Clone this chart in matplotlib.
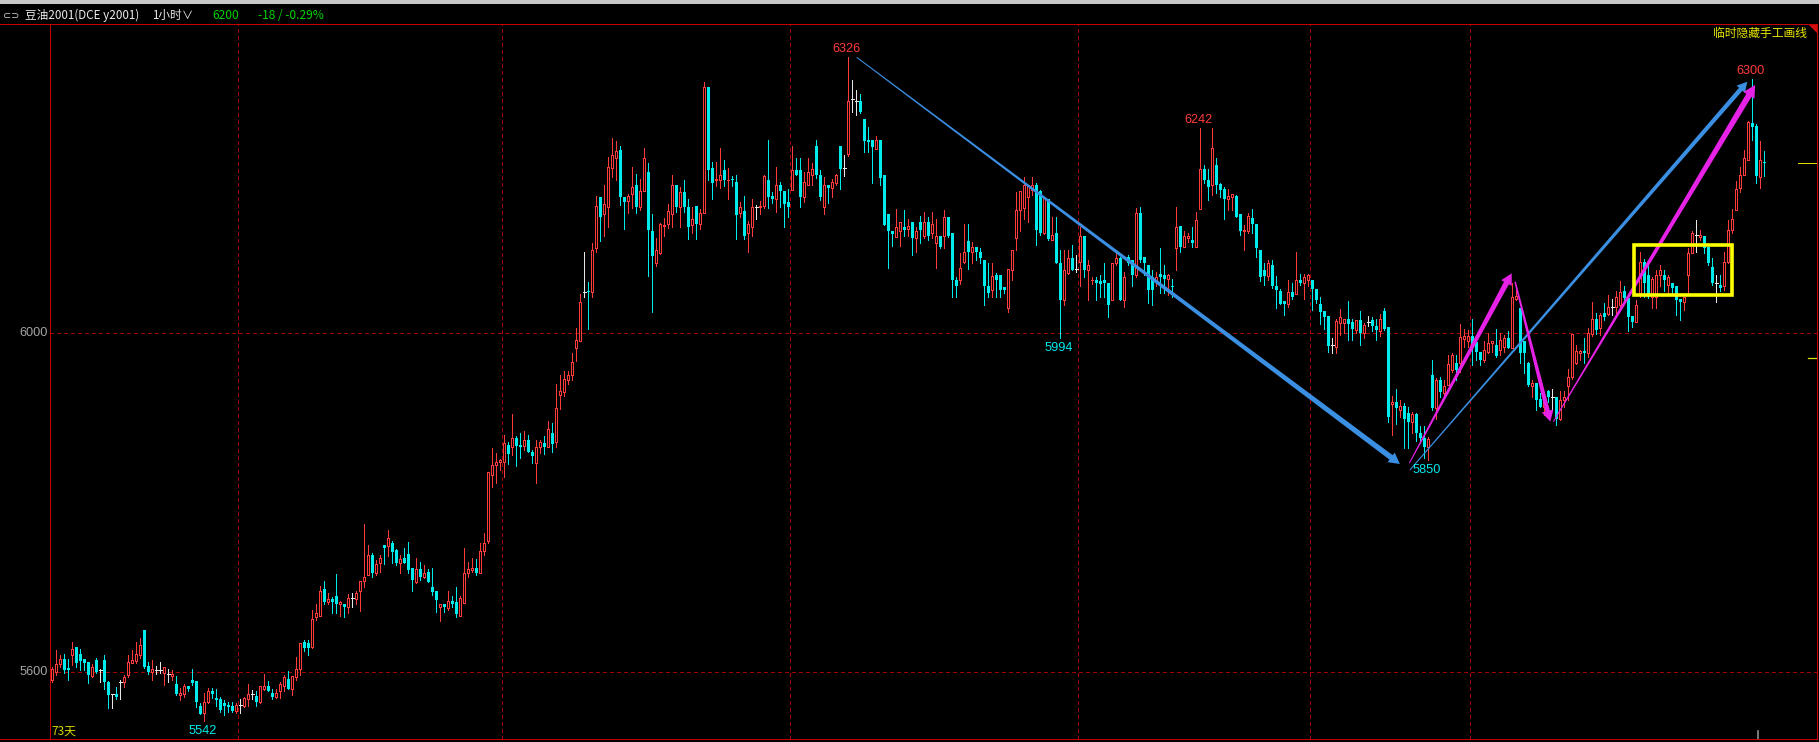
import numpy as np
import matplotlib
matplotlib.use("Agg")
import matplotlib.pyplot as plt
from matplotlib.collections import LineCollection, PolyCollection
from matplotlib.patches import Polygon, Rectangle
from matplotlib.lines import Line2D

# ---------------- data (1-hour candles, DCE y2001) ----------------
opens = [
5591,5600,5609,5615,5605,5620,5630,5621,5615,5612,
5595,5614,5602,5614,5588,5574,5574,5588,5588,5597,
5611,5613,5620,5650,5607,5600,5602,5602,5599,5598,
5595,5586,5573,5574,5584,5590,5589,5560,5551,5565,
5578,5569,5568,5563,5561,5560,5554,5561,5560,5568,
5574,5572,5565,5580,5583,5575,5571,5577,5583,5592,
5580,5594,5603,5635,5634,5629,5665,5666,5698,5683,
5686,5690,5680,5680,5677,5687,5686,5695,5707,5715,
5738,5717,5729,5750,5749,5752,5744,5729,5735,5739,
5723,5706,5721,5712,5718,5700,5695,5677,5680,5676,
5684,5682,5666,5681,5717,5720,5723,5717,5743,5754,
5832,5844,5848,5848,5868,5865,5876,5868,5867,5874,
5860,5847,5865,5870,5865,5882,5871,5927,5930,5945,
5950,5982,5991,6048,6050,6048,6100,6160,6140,6149,
6195,6207,6216,6160,6156,6164,6175,6149,6167,6190,
6120,6083,6094,6126,6129,6140,6175,6149,6166,6149,
6128,6150,6129,6141,6290,6195,6180,6180,6192,6180,
6181,6178,6141,6144,6118,6125,6149,6149,6150,6180,
6162,6158,6175,6167,6154,6169,6192,6192,6160,6175,
6186,6221,6187,6149,6175,6171,6177,6221,6195,6211,
6276,6274,6274,6253,6228,6228,6217,6228,6186,6140,
6120,6113,6120,6125,6123,6131,6112,6131,6114,6131,
6118,6106,6114,6114,6137,6118,6062,6062,6084,6108,
6095,6102,6096,6086,6055,6051,6068,6068,6054,6029,
6074,6112,6145,6147,6161,6169,6175,6167,6118,6158,
6110,6118,6082,6039,6071,6088,6075,6084,6114,6074,
6062,6063,6061,6063,6059,6039,6082,6088,6039,6090,
6086,6068,6141,6090,6080,6066,6061,6070,6068,6064,
6056,6100,6126,6102,6112,6110,6102,6146,6194,6181,
6175,6198,6176,6170,6158,6161,6162,6140,6120,6120,
6136,6129,6098,6074,6067,6080,6055,6050,6038,6034,
6048,6046,6063,6059,6063,6063,6052,6034,6026,6020,
5986,5984,6012,6012,6016,6013,6004,6015,6000,6013,
6015,6008,6002,6026,6007,5916,5919,5909,5914,5905,
5895,5904,5882,5876,5866,5950,5911,5945,5929,5939,
5956,5965,5965,5993,5991,5997,5989,5978,5968,5978,
5988,5986,5980,5984,5994,5982,6040,6029,5991,5965,
5937,5941,5922,5913,5931,5925,5925,5899,5921,5937,
5948,5964,5976,5979,5976,5999,6017,6006,6023,6022,
6031,6031,6033,6049,6041,6020,6013,6047,6084,6068,
6043,6043,6068,6068,6057,6059,6055,6040,6037,6068,
6094,6116,6113,6114,6102,6078,6059,6057,6055,6084,
6121,6145,6171,6187,6204,6248,6244,6184,6202]

highs = [
5606,5626,5620,5621,5615,5635,5630,5627,5615,5612,
5609,5617,5603,5620,5589,5574,5582,5591,5596,5620,
5626,5635,5640,5650,5612,5614,5607,5612,5606,5603,
5602,5595,5581,5586,5584,5604,5589,5563,5575,5581,
5581,5580,5571,5567,5565,5565,5563,5568,5571,5586,
5579,5577,5583,5598,5589,5580,5580,5588,5596,5601,
5595,5618,5634,5638,5638,5673,5680,5701,5707,5693,
5688,5716,5684,5680,5692,5693,5696,5707,5775,5750,
5740,5732,5738,5750,5767,5754,5745,5738,5746,5753,
5723,5735,5730,5726,5721,5723,5695,5680,5680,5695,
5690,5700,5690,5746,5730,5735,5733,5752,5764,5836,
5864,5858,5851,5880,5871,5904,5878,5882,5884,5880,
5862,5874,5874,5878,5896,5894,5940,5950,5955,5955,
5976,6006,6046,6096,6060,6106,6162,6160,6175,6208,
6230,6226,6221,6160,6164,6196,6188,6182,6218,6201,
6140,6112,6130,6136,6152,6186,6175,6172,6180,6158,
6149,6150,6146,6296,6290,6202,6202,6218,6204,6195,
6185,6186,6155,6162,6132,6158,6151,6156,6187,6228,
6166,6196,6178,6167,6170,6221,6207,6207,6190,6206,
6201,6228,6192,6184,6175,6182,6188,6221,6210,6326,
6298,6287,6282,6253,6243,6228,6232,6228,6186,6140,
6120,6146,6131,6145,6135,6131,6125,6138,6143,6137,
6143,6135,6114,6145,6137,6118,6066,6094,6129,6129,
6107,6102,6100,6086,6082,6082,6071,6068,6054,6075,
6098,6166,6167,6184,6175,6184,6177,6169,6159,6158,
6137,6137,6098,6098,6098,6104,6092,6125,6114,6086,
6066,6066,6068,6082,6059,6082,6094,6090,6072,6092,
6086,6147,6149,6090,6080,6074,6072,6100,6080,6070,
6064,6149,6126,6120,6118,6125,6143,6242,6198,6194,
6242,6207,6177,6172,6170,6164,6163,6140,6128,6141,
6146,6129,6098,6083,6086,6086,6067,6052,6038,6063,
6059,6095,6070,6070,6070,6063,6052,6043,6026,6020,
5994,6017,6028,6017,6038,6017,6015,6026,6012,6020,
6019,6016,6022,6029,6007,5926,5934,5921,5917,5913,
5907,5905,5890,5890,5877,5968,5947,5948,5945,5974,
5976,5974,6011,6005,6003,6016,5989,5978,5990,6000,
5991,6005,6000,5998,6002,6059,6057,6029,5991,5966,
5945,5941,5929,5927,5933,5934,5925,5931,5931,5958,
5999,5986,5980,5994,6006,6037,6023,6023,6035,6045,
6040,6050,6061,6055,6041,6020,6039,6096,6087,6080,
6066,6074,6080,6074,6068,6059,6055,6040,6043,6100,
6120,6133,6122,6114,6102,6089,6068,6068,6096,6133,
6146,6179,6196,6216,6250,6300,6247,6226,6215]

lows = [
5588,5597,5606,5599,5591,5608,5606,5602,5602,5587,
5594,5599,5588,5580,5557,5557,5568,5568,5582,5594,
5610,5611,5617,5605,5598,5591,5598,5599,5585,5588,
5591,5573,5567,5571,5577,5585,5559,5550,5542,5563,
5569,5560,5553,5549,5553,5553,5551,5551,5559,5560,
5568,5560,5563,5579,5577,5568,5569,5569,5577,5580,
5573,5590,5597,5625,5620,5628,5661,5666,5680,5680,
5669,5669,5666,5665,5669,5677,5680,5672,5700,5715,
5712,5714,5718,5727,5737,5729,5726,5717,5729,5717,
5695,5705,5708,5711,5706,5691,5671,5660,5671,5673,
5677,5665,5666,5681,5712,5718,5714,5717,5738,5752,
5818,5823,5838,5830,5845,5856,5843,5853,5862,5859,
5847,5823,5858,5857,5865,5859,5865,5910,5926,5940,
5944,5967,5990,6042,6005,6042,6095,6109,6115,6125,
6184,6180,6151,6123,6141,6148,6141,6145,6167,6067,
6025,6079,6093,6114,6124,6125,6143,6125,6143,6111,
6118,6111,6123,6141,6180,6158,6173,6171,6173,6158,
6173,6111,6137,6111,6095,6114,6135,6140,6148,6148,
6153,6143,6149,6125,6137,6169,6186,6149,6155,6175,
6175,6183,6157,6140,6153,6160,6175,6170,6185,6209,
6261,6257,6260,6214,6214,6177,6217,6175,6127,6077,
6103,6113,6103,6114,6114,6092,6096,6106,6112,6110,
6112,6077,6100,6100,6113,6043,6043,6058,6082,6076,
6082,6086,6082,6033,6043,6043,6043,6043,6047,6025,
6062,6098,6120,6135,6131,6163,6104,6116,6117,6110,
6110,6082,5994,6033,6070,6074,6072,6055,6066,6039,
6058,6039,6043,6043,6019,6039,6080,6039,6031,6080,
6055,6066,6084,6068,6035,6033,6055,6047,6047,6045,
6043,6074,6096,6102,6107,6102,6102,6146,6177,6157,
6163,6165,6161,6135,6145,6145,6137,6116,6098,6118,
6118,6090,6061,6057,6063,6053,6029,6034,6021,6031,
6040,6046,6057,6040,6055,6027,6035,6011,6005,5978,
5976,5976,5998,6000,5992,5992,6000,5986,5994,6008,
6002,5992,5996,6004,5895,5880,5893,5901,5864,5864,
5882,5872,5870,5852,5850,5909,5899,5925,5923,5939,
5954,5945,5954,5984,5984,5962,5968,5962,5966,5976,
5978,5972,5974,5977,5982,5982,6039,5964,5953,5937,
5925,5909,5913,5903,5919,5909,5891,5897,5913,5921,
5946,5963,5968,5964,5972,5997,5999,5998,6015,6021,
6021,6021,6030,6039,6002,6007,6013,6043,6043,6041,
6029,6029,6055,6049,6045,6045,6021,6015,6027,6047,
6094,6096,6110,6094,6080,6057,6037,6049,6051,6082,
6118,6145,6166,6186,6204,6228,6177,6171,6185]

closes = [
5603,5609,5615,5602,5602,5627,5611,5613,5611,5597,
5606,5600,5602,5588,5573,5574,5570,5588,5594,5612,
5614,5621,5632,5606,5600,5603,5602,5602,5606,5598,
5598,5574,5575,5584,5580,5587,5565,5550,5565,5578,
5574,5567,5555,5560,5559,5554,5561,5561,5569,5574,
5574,5565,5583,5583,5577,5571,5575,5586,5594,5580,
5595,5603,5634,5628,5628,5663,5669,5696,5683,5686,
5683,5680,5682,5677,5687,5687,5693,5707,5712,5738,
5717,5727,5735,5746,5758,5741,5729,5733,5729,5720,
5708,5721,5712,5717,5706,5694,5685,5680,5677,5684,
5680,5668,5687,5717,5721,5723,5717,5743,5752,5836,
5844,5848,5850,5870,5857,5876,5867,5865,5874,5859,
5855,5865,5871,5865,5887,5869,5911,5931,5946,5950,
5966,5992,6036,6048,6048,6098,6150,6137,6152,6196,
6210,6215,6160,6154,6162,6172,6149,6167,6206,6121,
6091,6098,6129,6128,6144,6175,6149,6166,6149,6125,
6134,6129,6141,6290,6192,6177,6182,6187,6180,6181,
6180,6139,6149,6115,6129,6149,6149,6150,6185,6161,
6158,6175,6167,6152,6149,6192,6186,6160,6178,6190,
6194,6187,6160,6175,6171,6178,6186,6194,6195,6274,
6276,6274,6261,6226,6225,6220,6228,6183,6127,6120,
6117,6125,6131,6122,6126,6112,6120,6122,6131,6114,
6129,6114,6102,6137,6114,6062,6055,6077,6095,6095,
6102,6095,6088,6055,6047,6067,6062,6051,6051,6075,
6098,6145,6167,6175,6175,6175,6122,6118,6159,6111,
6116,6082,6039,6074,6089,6074,6075,6114,6074,6080,
6063,6059,6058,6059,6033,6082,6088,6039,6066,6082,
6068,6141,6086,6082,6051,6051,6066,6066,6064,6068,
6054,6125,6102,6114,6115,6106,6133,6194,6181,6172,
6218,6175,6169,6158,6162,6164,6137,6120,6122,6138,
6129,6100,6066,6067,6082,6055,6051,6034,6034,6048,
6043,6063,6059,6066,6069,6052,6039,6025,6019,5985,
5986,6014,6019,6016,6011,6005,6015,6000,6010,6013,
6008,6003,6016,6005,5901,5919,5911,5914,5899,5895,
5904,5882,5876,5866,5875,5911,5945,5930,5937,5963,
5974,5956,5995,5996,5997,5982,5978,5968,5980,5988,
5991,5973,5992,5994,5982,6043,6044,5976,5976,5939,
5941,5921,5913,5925,5925,5925,5899,5921,5925,5948,
5999,5979,5979,5976,6000,6017,6004,6021,6019,6031,
6031,6042,6048,6041,6019,6013,6033,6084,6059,6043,
6064,6068,6074,6063,6066,6053,6039,6036,6043,6094,
6118,6116,6116,6100,6082,6059,6059,6053,6084,6121,
6135,6170,6187,6207,6249,6243,6185,6204,6200]

assert len(opens) == len(highs) == len(lows) == len(closes) == 429

y_ticks = [6000, 5600]
session_breaks = [47, 113, 185, 257, 315, 355]   # first candle after a dashed separator
peak_marks = [(199, "high"), (287, "high"), (425, "high"), (252, "low"), (344, "low"), (38, "low")]
right_marks = [6200, 5970]

# hand-drawn lines (candle index, price)
blue_arrows = [((201.1, 6325.3), (336.9, 5845.4), 1.0, 5.5, 11, 12),
               ((339.4, 5838.3), (423.75, 6296.5), 1.0, 4.5, 10, 11)]
magenta_arrows = [((339.25, 5846.3), (364.85, 6070.4), 1.0, 5.5, 11, 12),
                  ((365.7, 6060.5), (374.5, 5895.3), 1.5, 4.5, 11, 12),
                  ((375.25, 5895.3), (425.7, 6292.6), 1.0, 6.0, 12, 13)]
box = (395.3, 419.9, 6044.8, 6104.4)

# ---------------- figure ----------------
W, H = 1819, 742
RED = '#ff3c3c'
CYAN = '#00ecec'
WHITE = '#e6e6e6'
DASH = '#a00000'
FRAME = '#c80000'

fig = plt.figure(figsize=(W / 100, H / 100), dpi=100, facecolor='black')
ax = fig.add_axes([50 / W, 1 - 739 / H, (1817 - 50) / W, (739 - 24) / H])
ax.set_facecolor('black')
ax.set_xlim(-0.575, 441.175)
ax.set_ylim(5520.9, 6364.6)
ax.set_xticks([])
ax.set_yticks([])
for s in ax.spines.values():
    s.set_color(FRAME)
    s.set_linewidth(0.72)
ax.spines['top'].set_visible(False)
ax.spines['bottom'].set_visible(False)

# grid
for yv in y_ticks:
    ax.axhline(yv, color=DASH, lw=0.72, dashes=(3, 3), zorder=1, antialiased=False)
for b in session_breaks:
    ax.axvline(b - 0.5, color=DASH, lw=0.72, dashes=(3, 3), zorder=1, antialiased=False)

# candles
wick_up, wick_dn, wick_dj, dj_bar = [], [], [], []
body_up, body_dn = [], []
for i, (o, h, l, c) in enumerate(zip(opens, highs, lows, closes)):
    if c > o:
        wick_up.append([(i, l), (i, h)])
        body_up.append([(i - 0.25, o), (i + 0.25, o), (i + 0.25, c), (i - 0.25, c)])
    elif c < o:
        wick_dn.append([(i, l), (i, h)])
        top, bot = o, c
        if top - bot < 1.3:
            top = bot + 1.3
        body_dn.append([(i - 0.375, bot), (i + 0.375, bot), (i + 0.375, top), (i - 0.375, top)])
    else:
        wick_dj.append([(i, l), (i, h)])
        dj_bar.append([(i - 0.375, o), (i + 0.375, o)])

ax.add_collection(LineCollection(wick_up, colors=RED, linewidths=0.72, antialiaseds=False, zorder=2))
ax.add_collection(LineCollection(wick_dn, colors=CYAN, linewidths=0.72, antialiaseds=False, zorder=2))
ax.add_collection(LineCollection(wick_dj, colors=WHITE, linewidths=0.72, antialiaseds=False, zorder=2))
ax.add_collection(LineCollection(dj_bar, colors=WHITE, linewidths=0.72, antialiaseds=False, zorder=3))
ax.add_collection(PolyCollection(body_up, facecolors='black', edgecolors=RED, linewidths=0.72,
                                 antialiaseds=False, zorder=3))
ax.add_collection(PolyCollection(body_dn, facecolors=CYAN, edgecolors='none', linewidths=0,
                                 antialiaseds=False, zorder=3))

# peak labels
for idx, kind in peak_marks:
    if kind == "high":
        ax.annotate(str(highs[idx]), (idx, highs[idx]), xytext=(-1, 5.6), textcoords='offset points',
                    ha='center', va='center', color=RED, fontsize=9.2, family='Liberation Sans', zorder=8)
    else:
        ax.annotate(str(lows[idx]), (idx, lows[idx]), xytext=(-1, -7.3), textcoords='offset points',
                    ha='center', va='center', color=CYAN, fontsize=9.2, family='Liberation Sans', zorder=8)


def tapered(p0, p1, w0, w1, hl, hw, color):
    T = ax.transData
    a = np.array(T.transform(p0))
    b = np.array(T.transform(p1))
    d = b - a
    u = d / np.hypot(*d)
    n = np.array([-u[1], u[0]])
    base = b - u * hl
    pts = [a + n * w0 / 2, base + n * w1 / 2, base + n * hw / 2, b,
           base - n * hw / 2, base - n * w1 / 2, a - n * w0 / 2]
    data = T.inverted().transform(np.array(pts))
    ax.add_patch(Polygon(data, closed=True, facecolor=color, edgecolor='none', zorder=6))


for p0, p1, w0, w1, hl, hw in blue_arrows:
    tapered(p0, p1, w0, w1, hl, hw, '#3a8fe2')
for p0, p1, w0, w1, hl, hw in magenta_arrows:
    tapered(p0, p1, w0, w1, hl, hw, '#e622e6')

ax.add_patch(Rectangle((box[0], box[2]), box[1] - box[0], box[3] - box[2], fill=False,
                       edgecolor='#ffff00', linewidth=2.6, zorder=7))

# right-side price marks
ax.plot([436.4, 441.2], [right_marks[0]] * 2, color='#e0e000', lw=0.72, zorder=4)
ax.plot([438.9, 441.2], [right_marks[1]] * 2, color='#e0e000', lw=0.9, zorder=4)
ax.plot([426.4, 426.4], [5521, 5530.5], color='#909090', lw=1.2, zorder=4)

# y labels
for yv in y_ticks:
    ypx = 333 + (6000 - yv) * 0.8475
    fig.text(48 / W, 1 - ypx / H, str(yv), ha='right', va='center', color='#a4a4a4',
             fontsize=9.2, family='Liberation Sans')

# frame lines across the figure
fig.add_artist(Line2D([0, 1817 / W], [1 - 24 / H] * 2, color=FRAME, lw=0.72, antialiased=False))
fig.add_artist(Line2D([0, 1817 / W], [1 - 739 / H] * 2, color=FRAME, lw=0.72, antialiased=False))
fig.add_artist(Rectangle((0, 1 - 3.5 / H), 1, 3.5 / H, transform=fig.transFigure,
                         facecolor='#c8c8c8', edgecolor='none'))
fig.add_artist(Polygon([(1808 / W, 1 - 24 / H), (1817 / W, 1 - 24 / H), (1817 / W, 1 - 33 / H)],
                       closed=True, transform=fig.transFigure, facecolor='#d01010', edgecolor='none'))

CJK = ['Noto Sans CJK SC', 'DejaVu Sans']


def ftext(x, y, s, color, size, ha='left', family=CJK):
    fig.text(x / W, 1 - y / H, s, ha=ha, va='center', color=color, fontsize=size, family=family)


ftext(3, 15.5, '⊂⊃', '#d0d0d0', 7, family=['DejaVu Sans'])
ftext(25, 15.5, '豆油2001(DCE y2001)', '#ececec', 8.4)
ftext(152, 15.5, '1小时', '#ececec', 8.4)
ftext(182, 15.5, '∨', '#ececec', 8.0)
ftext(212, 15.5, '6200', '#00d200', 8.6)
ftext(258, 15.5, '-18 / -0.29%', '#00d200', 8.6)
ftext(1807, 33, '临时隐藏手工画线', '#e8e800', 8.5, ha='right')
ftext(51, 731, '73天', '#d4d400', 8.6)

fig.savefig('out.png', dpi=100, facecolor='black')
